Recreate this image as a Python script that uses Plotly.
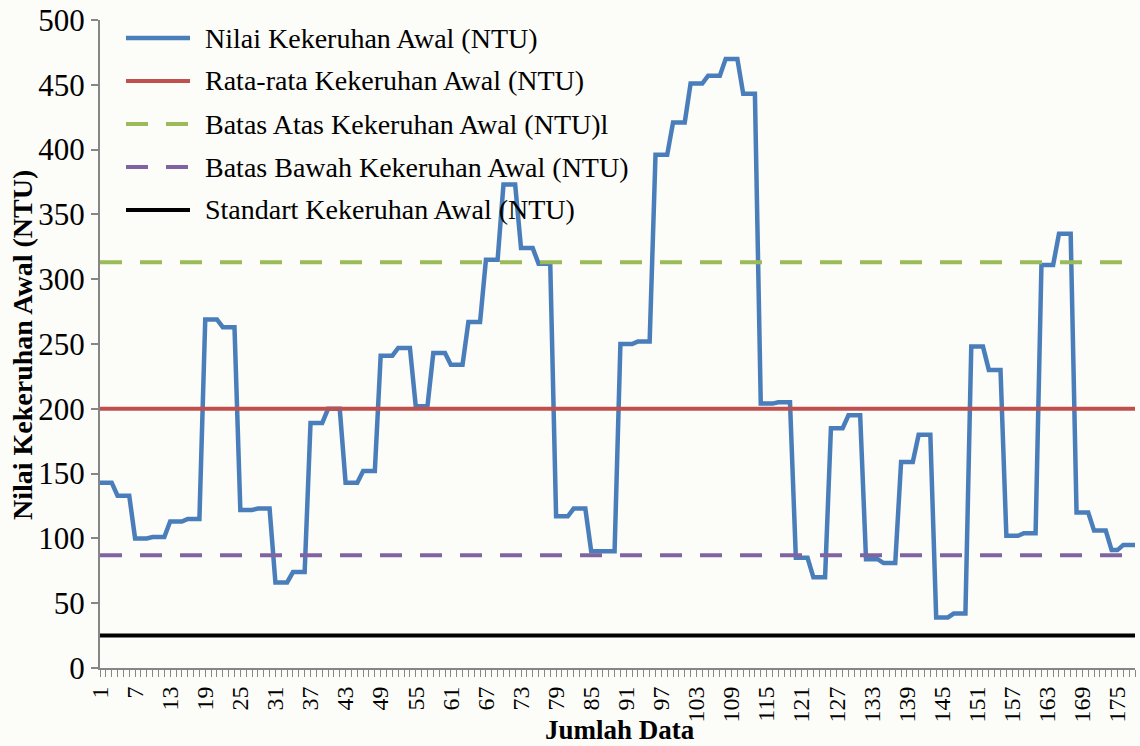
import plotly.graph_objects as go

# ---- data ----
data_index = list(range(1, 179))  # Jumlah Data 1..178

kekeruhan_awal = [
    143, 143, 143, 133, 133, 133, 100, 100, 100, 101, 101, 101,
    113, 113, 113, 115, 115, 115, 269, 269, 269, 263, 263, 263,
    122, 122, 122, 123, 123, 123, 66, 66, 66, 74, 74, 74,
    189, 189, 189, 200, 200, 200, 143, 143, 143, 152, 152, 152,
    241, 241, 241, 247, 247, 247, 202, 202, 202, 243, 243, 243,
    234, 234, 234, 267, 267, 267, 315, 315, 315, 373, 373, 373,
    324, 324, 324, 312, 312, 312, 117, 117, 117, 123, 123, 123,
    90, 90, 90, 90, 90,
    250, 250, 250, 252, 252, 252, 396, 396, 396, 421, 421, 421,
    451, 451, 451, 457, 457, 457, 470, 470, 470, 443, 443, 443,
    204, 204, 204, 205, 205, 205, 85, 85, 85, 70, 70, 70,
    185, 185, 185, 195, 195, 195, 84, 84, 84, 81, 81, 81,
    159, 159, 159, 180, 180, 180, 39, 39, 39, 42, 42, 42,
    248, 248, 248, 230, 230, 230, 102, 102, 102, 104, 104, 104,
    311, 311, 311, 335, 335, 335, 120, 120, 120, 106, 106, 106,
    91, 91, 95, 95, 95,
]

rata_rata_value = 200
batas_atas_value = 313
batas_bawah_value = 87
standart_value = 25

rata_rata = [rata_rata_value] * len(data_index)
batas_atas = [batas_atas_value] * len(data_index)
batas_bawah = [batas_bawah_value] * len(data_index)
standart = [standart_value] * len(data_index)

x_tick_vals = [1, 7, 13, 19, 25, 31, 37, 43, 49, 55, 61, 67, 73, 79, 85, 91,
               97, 103, 109, 115, 121, 127, 133, 139, 145, 151, 157, 163, 169, 175]
x_tick_text = ["1", "7", "13", "19", "25", "31", "37", "43", "49", "55", "61", "67",
               "73", "79", "85", "91", "97", "103", "109", "115", "121", "127",
               "133", "139", "145", "151", "157", "163", "169", "175"]
y_tick_vals = [0, 50, 100, 150, 200, 250, 300, 350, 400, 450, 500]

series_names = [
    "Nilai Kekeruhan Awal (NTU)",
    "Rata-rata Kekeruhan Awal (NTU)",
    "Batas Atas Kekeruhan Awal (NTU)l",
    "Batas Bawah Kekeruhan Awal (NTU)",
    "Standart Kekeruhan Awal (NTU)",
]

# ---- styling ----
BLUE = "#4a7ebb"
RED = "#c0504d"
GREEN = "#9bbb59"
PURPLE = "#8064a2"
BLACK = "#000000"
AXIS = "#868686"
FONT = "Liberation Serif, Times New Roman, serif"
BG = "#fcfcf8"
DASH = "22px,18px"

W, H = 1140, 746
ML, MR, MT, MB = 100, 5, 20, 78
PW, PH = W - ML - MR, H - MT - MB


def px_to_paper_x(px):
    return (px - ML) / PW


def px_to_paper_y(py):
    return (H - MB - py) / PH


styles = [
    dict(color=BLUE, width=4.5, dash="solid"),
    dict(color=RED, width=4, dash="solid"),
    dict(color=GREEN, width=4, dash=DASH),
    dict(color=PURPLE, width=4, dash=DASH),
    dict(color=BLACK, width=4, dash="solid"),
]
series_values = [kekeruhan_awal, rata_rata, batas_atas, batas_bawah, standart]

fig = go.Figure()
for name, vals, st in zip(series_names, series_values, styles):
    fig.add_trace(go.Scatter(
        x=data_index, y=vals, mode="lines", name=name,
        line=dict(color=st["color"], width=st["width"], dash=st["dash"]),
        showlegend=False,
    ))

# manual legend (Excel style: long line samples)
legend_rows_px = [38, 81, 124, 167, 210]
shapes = []
annotations = []
for name, st, py in zip(series_names, styles, legend_rows_px):
    yy = px_to_paper_y(py)
    shapes.append(dict(
        type="line", xref="paper", yref="paper",
        x0=px_to_paper_x(126), x1=px_to_paper_x(190), y0=yy, y1=yy,
        line=dict(color=st["color"], width=st["width"], dash=st["dash"]),
    ))
    annotations.append(dict(
        xref="paper", yref="paper", x=px_to_paper_x(203), y=yy,
        xanchor="left", yanchor="middle", showarrow=False, text=name,
        font=dict(family=FONT, size=28, color="black"),
    ))

annotations.append(dict(
    xref="paper", yref="paper", x=px_to_paper_x(620), y=px_to_paper_y(730),
    xanchor="center", yanchor="middle", showarrow=False,
    text="<b>Jumlah Data</b>", font=dict(family=FONT, size=27, color="black"),
))
annotations.append(dict(
    xref="paper", yref="paper", x=px_to_paper_x(22), y=px_to_paper_y(345),
    xanchor="center", yanchor="middle", showarrow=False, textangle=-90,
    text="<b>Nilai Kekeruhan Awal (NTU)</b>",
    font=dict(family=FONT, size=28, color="black"),
))

fig.update_layout(
    width=W, height=H,
    margin=dict(l=ML, r=MR, t=MT, b=MB, pad=0),
    paper_bgcolor=BG, plot_bgcolor=BG,
    shapes=shapes, annotations=annotations,
    font=dict(family=FONT, color="black"),
    xaxis=dict(
        range=[1, 178], tickmode="array", tickvals=x_tick_vals, ticktext=x_tick_text,
        tickangle=-90, tickfont=dict(family=FONT, size=24, color="black"),
        ticks="outside", ticklen=7, tickcolor=AXIS, tickwidth=1,
        minor=dict(ticks="outside", ticklen=7, tickcolor=AXIS, tickwidth=1,
                   tickmode="array", tickvals=data_index),
        showline=True, linecolor=AXIS, linewidth=2,
        showgrid=False, zeroline=False, automargin=False,
    ),
    yaxis=dict(
        range=[0, 500], tickmode="array", tickvals=y_tick_vals,
        tickfont=dict(family=FONT, size=31, color="black"),
        ticks="outside", ticklen=7, tickcolor=AXIS, tickwidth=1.5,
        showline=True, linecolor=AXIS, linewidth=2,
        showgrid=False, zeroline=False, automargin=False,
    ),
)

fig.write_html(
    "out.html",
    config={"displayModeBar": False},
    post_script="document.body.style.margin='0';document.body.style.background='%s';" % BG,
)
